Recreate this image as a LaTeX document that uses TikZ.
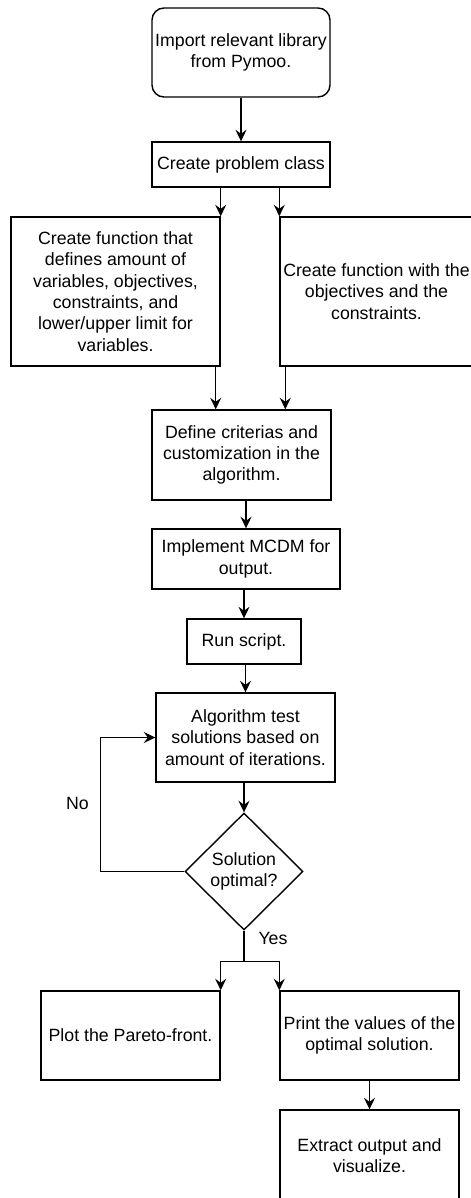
\documentclass[tikz,border=0pt]{standalone}
\usepackage{fontspec}
\setmainfont{Liberation Sans}
\usepackage{tikz}
\usetikzlibrary{positioning,shapes,calc,arrows.meta}
\tikzset{block/.style={rectangle,draw,line width=0.8pt,align=center,inner sep=0pt,
                       font=\fontsize{10.1}{12.1}\selectfont},
         decision/.style={diamond,aspect=1,draw,line width=0.8pt,align=center,inner sep=0pt,
                       font=\fontsize{10.1}{12.1}\selectfont},
         arr/.style={->,line width=0.8pt},
         lbl/.style={font=\fontsize{10.1}{12.1}\selectfont}
}

\begin{document}
\begin{tikzpicture}[>={Stealth[length=2.3mm,width=2.2mm,inset=0.8mm]}]
    \useasboundingbox (0,0) rectangle (9.4,-23.96);
            %            imp
            %            cls
            %   fdef            fobj
            %            crit
            %            mcdm
            %            run
            %            alg
            %            dia
            %   plot            prt
            %                   ext
        \node[block, rounded corners=0.24cm, minimum width=3.56cm, minimum height=1.78cm] (imp) at (4.82,-1.05) {Import relevant library\\from Pymoo.};
        \node[block, minimum width=3.56cm, minimum height=0.9cm] (cls) at (4.82,-3.29) {Create problem class};
        \node[block, minimum width=4.18cm, minimum height=2.98cm] (fdef) at (2.31,-5.83) {Create function that\\defines amount of\\variables, objectives,\\constraints, and\\lower/upper limit for\\variables.};
        \node[block, minimum width=3.86cm, minimum height=2.98cm] (fobj) at (7.53,-5.83) {Create function with the\\objectives and the\\constraints.};
        \node[block, minimum width=3.58cm, minimum height=1.8cm] (crit) at (4.83,-9.1) {Define criterias and\\customization in the\\algorithm.};
        \node[block, minimum width=3.76cm, minimum height=1.2cm] (mcdm) at (4.92,-11.18) {Implement MCDM for\\output.};
        \node[block, minimum width=2.28cm, minimum height=0.9cm] (run) at (4.88,-12.83) {Run script.};
        \node[block, minimum width=3.58cm, minimum height=1.78cm] (alg) at (4.91,-14.75) {Algorithm test\\solutions based on\\amount of iterations.};
        \node[decision, minimum width=2.36cm, minimum height=2.34cm] (dia) at (4.88,-17.43) {Solution\\optimal?};
        \node[block, minimum width=3.58cm, minimum height=1.78cm] (plot) at (2.61,-20.71) {Plot the Pareto-front.};
        \node[block, minimum width=3.58cm, minimum height=1.78cm] (prt) at (7.39,-20.71) {Print the values of the\\optimal solution.};
        \node[block, minimum width=3.58cm, minimum height=1.84cm] (ext) at (7.39,-23.12) {Extract output and\\visualize.};
        \node[lbl] (no) at (1.55,-16.06) {No};
        \node[lbl] (yes) at (5.46,-18.77) {Yes};

        \draw[arr] (imp) -- (cls);
        \draw[arr] (fdef.north east |- cls.south) -- (fdef.north east);
        \draw[arr] (fobj.north west |- cls.south) -- (fobj.north west);
        \draw[arr] ([xshift=-0.1cm]fdef.south east) -- ([xshift=-0.1cm]fdef.south east |- crit.north);
        \draw[arr] ([xshift=0.12cm]fobj.south west) -- ([xshift=0.12cm]fobj.south west |- crit.north);
        \draw[arr] (mcdm.north |- crit.south) -- (mcdm.north);
        \draw[arr] (run.north |- mcdm.south) -- (run.north);
        \draw[arr] (alg.north |- run.south) -- (alg.north);
        \draw[arr] (dia.north |- alg.south) -- (dia.north);
        \draw[arr] (dia.west) -- ++(-1.68,0) |- (alg.west);
        \draw[line width=0.8pt] (dia.south) -- ++(0,-0.62) coordinate (split);
        \draw[arr] (split) -| (plot.north east);
        \draw[arr] (split) -| (prt.north west);
        \draw[arr] (prt) -- (ext);
\end{tikzpicture}
\end{document}
